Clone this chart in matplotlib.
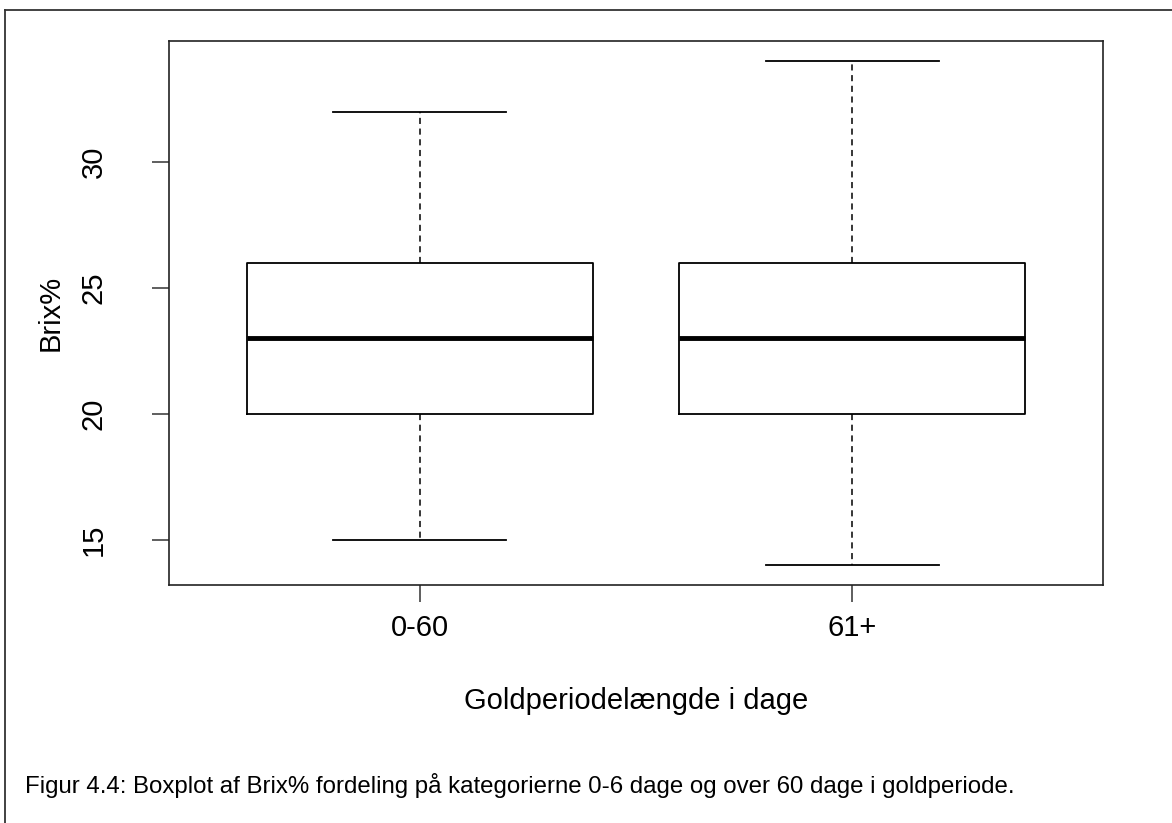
import matplotlib.pyplot as plt
from matplotlib.lines import Line2D

plt.rcParams['font.family'] = ['Liberation Sans', 'DejaVu Sans']

groups = ["0-60", "61+"]
whislo = [15, 14]
q1 = [20, 20]
med = [23, 23]
q3 = [26, 26]
whishi = [32, 34]

stats = []
for i in range(len(groups)):
    stats.append({"label": groups[i], "whislo": whislo[i], "q1": q1[i],
                  "med": med[i], "q3": q3[i], "whishi": whishi[i], "fliers": []})

fig = plt.figure(figsize=(11.72, 8.23), dpi=100)
ax = fig.add_axes([0.1442, 0.2892, 0.7969, 0.661])

ax.bxp(stats, positions=[1, 2], widths=0.8, showfliers=False,
       boxprops=dict(color="black", linewidth=1.3),
       medianprops=dict(color="black", linewidth=3.5, solid_capstyle="butt"),
       whiskerprops=dict(color="black", linewidth=1.1, linestyle=(0, (4, 3))),
       capprops=dict(color="black", linewidth=1.3),
       capwidths=0.4)

ax.set_xlim(0.42, 2.58)
ax.set_ylim(13.2, 34.8)
ax.set_yticks([15, 20, 25, 30])
ax.set_yticklabels(["15", "20", "25", "30"], rotation=90, va="center")
ax.set_xticks([1, 2])
ax.set_xticklabels(groups)
ax.tick_params(axis="both", length=12, width=1.1, labelsize=21, color="#333333")
ax.tick_params(axis="y", pad=32)
ax.tick_params(axis="x", pad=9)
for s in ax.spines.values():
    s.set_linewidth(1.2)
    s.set_color("#222222")

ax.set_xlabel("Goldperiodelængde i dage", fontsize=21, labelpad=32)
ax.set_ylabel("Brix%", fontsize=21, labelpad=11)

fig.text(0.0213, 0.045, "Figur 4.4: Boxplot af Brix% fordeling på kategorierne 0-6 dage og over 60 dage i goldperiode.",
         fontsize=17.3, ha="left", va="center")

# outer frame (top and left edges only)
fig.add_artist(Line2D([0.0045, 1.0], [0.9875, 0.9875], transform=fig.transFigure, color="#333333", linewidth=1.3))
fig.add_artist(Line2D([0.0045, 0.0045], [0.0, 0.9875], transform=fig.transFigure, color="#333333", linewidth=1.3))

fig.savefig("out.png", dpi=100)
